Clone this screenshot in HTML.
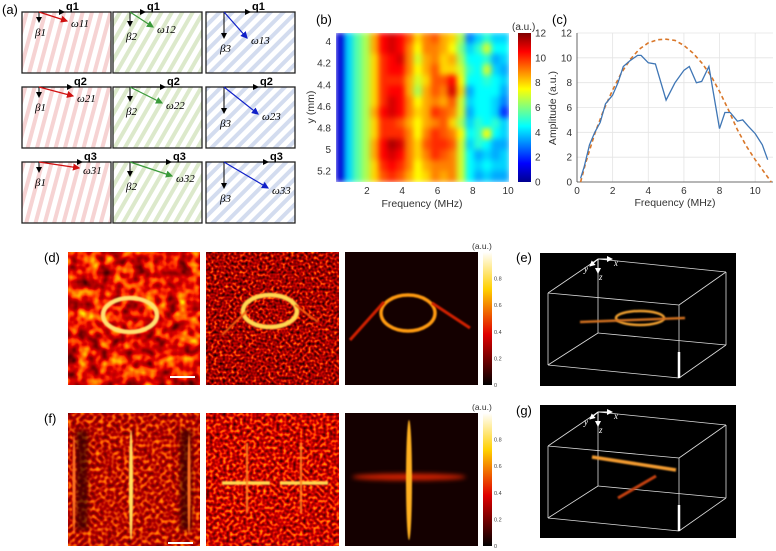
<!DOCTYPE html>
<html><head><meta charset="utf-8"><style>
html,body{margin:0;padding:0;background:#fff;}
svg{display:block;font-family:"Liberation Sans",sans-serif;}
filter{color-interpolation-filters:sRGB;}
</style></head><body>
<svg id="fig" width="776" height="551" viewBox="0 0 776 551" xmlns="http://www.w3.org/2000/svg">
<defs>
 <pattern id="stR" width="9" height="9" patternUnits="userSpaceOnUse" patternTransform="rotate(15)"><rect width="9" height="9" fill="#fff"/><rect width="4" height="9" fill="#f6d3d3"/></pattern>
 <pattern id="stG" width="9" height="9" patternUnits="userSpaceOnUse" patternTransform="rotate(30)"><rect width="9" height="9" fill="#fff"/><rect width="4" height="9" fill="#dce9cb"/></pattern>
 <pattern id="stB" width="9" height="9" patternUnits="userSpaceOnUse" patternTransform="rotate(45)"><rect width="9" height="9" fill="#fff"/><rect width="4" height="9" fill="#d3dcef"/></pattern>
 <marker id="ak" markerWidth="6" markerHeight="6" refX="5" refY="3" orient="auto"><path d="M0,0L6,3L0,6z" fill="#000"/></marker>
 <marker id="ar" markerWidth="6" markerHeight="6" refX="5" refY="3" orient="auto"><path d="M0,0L6,3L0,6z" fill="#d01010"/></marker>
 <marker id="ag" markerWidth="6" markerHeight="6" refX="5" refY="3" orient="auto"><path d="M0,0L6,3L0,6z" fill="#3a9a3a"/></marker>
 <marker id="ab" markerWidth="6" markerHeight="6" refX="5" refY="3" orient="auto"><path d="M0,0L6,3L0,6z" fill="#1020c8"/></marker>
 <marker id="aw" markerWidth="6" markerHeight="6" refX="5" refY="3" orient="auto"><path d="M0,0L6,3L0,6z" fill="#fff"/></marker>
 <linearGradient id="jet" x1="0" y1="1" x2="0" y2="0">
  <stop offset="0" stop-color="#00008f"/><stop offset="0.125" stop-color="#0000ff"/><stop offset="0.375" stop-color="#00ffff"/><stop offset="0.625" stop-color="#ffff00"/><stop offset="0.875" stop-color="#ff0000"/><stop offset="1" stop-color="#800000"/>
 </linearGradient>
 <linearGradient id="hot" x1="0" y1="1" x2="0" y2="0">
  <stop offset="0" stop-color="#000"/><stop offset="0.38" stop-color="#e00000"/><stop offset="0.72" stop-color="#ffd000"/><stop offset="1" stop-color="#fff"/>
 </linearGradient>
 <filter id="n1" x="0" y="0" width="1" height="1" color-interpolation-filters="sRGB"><feTurbulence type="fractalNoise" baseFrequency="0.09" numOctaves="2" seed="3"/><feColorMatrix type="matrix" values="1.8 0 0 0 0  2.4 0 0 0 -1.15  0 0 0 0 0  0 0 0 0 1"/></filter>
 <filter id="n2" x="0" y="0" width="1" height="1" color-interpolation-filters="sRGB"><feTurbulence type="fractalNoise" baseFrequency="0.35" numOctaves="1" seed="7"/><feColorMatrix type="matrix" values="1.8 0 0 0 -0.25  2.2 0 0 0 -1.25  0 0 0 0 0  0 0 0 0 1"/></filter>
 <filter id="n3" x="0" y="0" width="1" height="1" color-interpolation-filters="sRGB"><feTurbulence type="fractalNoise" baseFrequency="0.25" numOctaves="1" seed="11"/><feColorMatrix type="matrix" values="1.2 0 0 0 0.15  1.6 0 0 0 -0.75  0 0 0 0 0  0 0 0 0 1"/></filter>
 <filter id="n4" x="0" y="0" width="1" height="1" color-interpolation-filters="sRGB"><feTurbulence type="fractalNoise" baseFrequency="0.3" numOctaves="1" seed="5"/><feColorMatrix type="matrix" values="1.8 0 0 0 -0.1  2.2 0 0 0 -1.15  0 0 0 0 0  0 0 0 0 1"/></filter>
 <filter id="bl1" filterUnits="userSpaceOnUse" x="0" y="0" width="776" height="551" color-interpolation-filters="sRGB"><feGaussianBlur stdDeviation="0.8"/></filter>
 <filter id="bl2" filterUnits="userSpaceOnUse" x="0" y="0" width="776" height="551" color-interpolation-filters="sRGB"><feGaussianBlur stdDeviation="2.5"/></filter>
 <filter id="hmBlur" x="0" y="0" width="1" height="1" color-interpolation-filters="sRGB"><feGaussianBlur stdDeviation="3"/></filter>
 <clipPath id="hmClip"><rect x="336" y="33" width="173" height="149"/></clipPath>
</defs>

<g id="panelA">
 <text x="2" y="14" font-size="13">(a)</text>
</g>

<g>
 <text x="316" y="24" font-size="13">(b)</text>
 <g clip-path="url(#hmClip)"><g id="hmCells" filter="url(#hmBlur)"></g></g>
 <g id="hmAxes" font-size="10" fill="#333"></g>
 <text x="422" y="207" font-size="10.5" text-anchor="middle" fill="#333">Frequency (MHz)</text>
 <text transform="translate(314,107) rotate(-90)" font-size="10.5" text-anchor="middle" fill="#333">y (mm)</text>
 <rect x="518" y="33" width="13" height="149" fill="url(#jet)"/>
 <text x="512" y="30" font-size="10" fill="#333">(a.u.)</text>
 <g id="cbTicks" font-size="10" fill="#333"></g>
</g>

<g>
 <text x="552" y="24" font-size="13">(c)</text>
 <g id="cGrid"></g>
 <path id="fitLine" fill="none" stroke="#d9772a" stroke-width="1.6" stroke-dasharray="4,3"/>
 <path id="measLine" fill="none" stroke="#3f76b5" stroke-width="1.3"/>
 <text x="675" y="206" font-size="10.5" text-anchor="middle" fill="#333">Frequency (MHz)</text>
 <text transform="translate(556,108) rotate(-90)" font-size="10.5" text-anchor="middle" fill="#333">Amplitude (a.u.)</text>
</g>

<g>
 <text x="44" y="262" font-size="13">(d)</text>
 <rect x="68" y="252" width="132" height="133" fill="#c03000" filter="url(#n1)"/>
 <ellipse cx="130" cy="315" rx="27" ry="17" fill="none" stroke="#ffe070" stroke-width="4.5" filter="url(#bl1)"/>
 <line x1="170" y1="377" x2="195" y2="377" stroke="#fff" stroke-width="2"/>
 <rect x="206" y="252" width="133" height="133" fill="#901000" filter="url(#n2)"/>
 <ellipse cx="270" cy="311" rx="27" ry="16" fill="none" stroke="#ffd850" stroke-width="4.5" filter="url(#bl1)"/>
 <path d="M222,335 L248,310 M295,305 L318,322" stroke="#f06010" stroke-width="2" filter="url(#bl1)"/>
 <rect x="345" y="252" width="133" height="133" fill="#140000"/>
 <ellipse cx="408" cy="313" rx="27" ry="18" fill="none" stroke="#ff9a10" stroke-width="3.5" filter="url(#bl1)"/>
 <path d="M350,340 L384,302 M432,303 L470,328" stroke="#d02000" stroke-width="3" filter="url(#bl1)"/>
 <rect x="483" y="252" width="9" height="133" fill="url(#hot)"/>
 <text x="472" y="249" font-size="8.5" fill="#333">(a.u.)</text>
 <g id="cbD" font-size="5.5" fill="#444"></g>
</g>

<g>
 <text x="44" y="423" font-size="13">(f)</text>
 <rect x="68" y="413" width="132" height="133" fill="#b82000" filter="url(#n3)"/>
 <rect x="76" y="430" width="12" height="100" fill="#300000" opacity="0.7" filter="url(#bl2)"/>
 <rect x="180" y="430" width="12" height="100" fill="#300000" opacity="0.7" filter="url(#bl2)"/>
 <ellipse cx="131" cy="485" rx="2" ry="55" fill="#ffe060" filter="url(#bl1)"/>
 <ellipse cx="74" cy="485" rx="1.5" ry="50" fill="#ff7020" filter="url(#bl1)"/>
 <ellipse cx="189" cy="485" rx="1.5" ry="50" fill="#ff7020" filter="url(#bl1)"/>
 <line x1="168" y1="543" x2="193" y2="543" stroke="#fff" stroke-width="2"/>
 <rect x="206" y="413" width="133" height="133" fill="#b02000" filter="url(#n4)"/>
 <path d="M222,483 L270,483 M280,483 L328,483" stroke="#ffdc50" stroke-width="3.5" filter="url(#bl1)"/>
 <path d="M247,443 L247,513 M301,443 L301,513" stroke="#ff8020" stroke-width="2" filter="url(#bl1)"/>
 <rect x="345" y="413" width="133" height="133" fill="#140000"/>
 <ellipse cx="409" cy="477" rx="57" ry="3.5" fill="#d02000" filter="url(#bl2)"/>
 <ellipse cx="409" cy="480" rx="3" ry="60" fill="#ffb020" filter="url(#bl1)"/>
 <rect x="483" y="413" width="9" height="133" fill="url(#hot)"/>
 <text x="472" y="410" font-size="8.5" fill="#333">(a.u.)</text>
 <g id="cbF" font-size="5.5" fill="#444"></g>
</g>

<g>
 <text x="516" y="262" font-size="13">(e)</text>
 <rect x="540" y="253" width="196" height="133" fill="#000"/>
 <g id="boxE"></g>
 <ellipse cx="640" cy="318" rx="24" ry="7" fill="none" stroke="#f0a030" stroke-width="2.5" filter="url(#bl1)"/>
 <path d="M580,322 L685,318" stroke="#d07020" stroke-width="2.5" filter="url(#bl1)"/>
</g>
<g>
 <text x="516" y="415" font-size="13">(g)</text>
 <rect x="540" y="405" width="196" height="133" fill="#000"/>
 <g id="boxG"></g>
 <path d="M592,457 L676,470" stroke="#f09a30" stroke-width="3.5" filter="url(#bl1)"/>
 <path d="M618,498 L656,476" stroke="#c04010" stroke-width="3" filter="url(#bl1)"/>
</g>
</svg>
<script>
const NS="http://www.w3.org/2000/svg";
const freqMeas=[0.2,0.4,0.7,1.0,1.3,1.6,2.0,2.3,2.6,3.0,3.4,3.6,4.0,4.4,5.0,5.5,6.0,6.3,6.7,7.0,7.4,8.0,8.3,8.6,9.0,9.3,9.6,10.0,10.4,10.7];
const ampMeas=[0.3,1.2,3.0,4.0,4.8,6.3,7.0,8.0,9.3,9.8,10.2,10.2,9.6,9.5,6.6,8.0,9.0,9.3,8.0,8.1,9.3,4.3,5.6,5.6,4.9,5.0,4.5,3.9,3.0,1.8];
const freqFit=[0.2,0.5,1,1.5,2,2.5,3,3.5,4,4.5,5,5.5,6,6.5,7,7.5,8,8.5,9,9.5,10,10.5,10.9];
const ampFit=[0,1.6,3.9,5.8,7.4,8.8,9.9,10.7,11.2,11.45,11.5,11.4,11.0,10.4,9.6,8.6,7.3,5.8,4.2,2.9,1.8,0.8,0];
const cXTicks=[0,2,4,6,8,10];
const cYTicks=[0,2,4,6,8,10,12];
const hmFreqTicks=[2,4,6,8,10];
const hmYTicks=[4,4.2,4.4,4.6,4.8,5,5.2];
const cbTickVals=[0,2,4,6,8,10,12];
const hmGrid=[
[1,4,5.5,6.5,8.5,10.5,11,10.5,9.5,8,9,9.5,8.5,8,6.5,3,4,5,4,4],
[1,4,5.5,6.5,8.5,10.5,11,10.5,9,7.5,9,9,8.5,7.5,6,4,5,7,4.5,4.5],
[1,4,5.5,6.5,8,10,10.5,11,9,7,8.5,9,8,8.5,6.5,4.5,4.5,5,3.5,4],
[1,4,5.5,6.5,8,10,10.5,10.5,9,7.5,8.5,9.5,8,8,7,5,4.5,7,4,3.5],
[1,4,5.5,6.5,8,10,10,10,8.5,7,8,9.5,9.5,10.5,7.5,4.5,4.5,5,4.5,4],
[1,4,5.5,6.5,8,10,10.5,10.5,8.5,6.5,8.5,9.5,9,11,8,3.5,4.5,4.5,4.5,3.5],
[1,4,5.5,6.5,8,10,11,10.5,9,7.5,8.5,9,8.5,9.5,7,4,4.5,4.5,4,3],
[1,4,5.5,6.5,8.5,10.5,11,10.5,9,8,8.5,10,9.5,9,7,3.5,4.5,4.5,4,2],
[1,4,5.5,6.5,8,10,10,9.5,8.5,7.5,8.5,9,9.5,8,6.5,4,5,4.5,5,4],
[1,4,5.5,6.5,8,10,10,10,9,7.5,9,10,9.5,9,7.5,4.5,5,7.5,4.5,4],
[1,4,5.5,6.5,8.5,10.5,11.5,11,9,8,9.5,10,10,9.5,7,4,5,4.5,3.5,3.5],
[1,4,5.5,6.5,8.5,10.5,11,10.5,9,8,9,10,9.5,9,7,4.5,3.5,4,3.5,4],
[1,4,5.5,6.5,8,10,10.5,10,9,7.5,8.5,9,9,9,7,4.5,4,4.5,4,4],
[1,4,5.5,6.5,8,9.5,10,9.5,8.5,7.5,8,9,8.5,9,7,4.5,3.5,4,3.5,3.5]];
const hotTicks=[0,0.2,0.4,0.6,0.8];

function mk(tag,attrs,parent){const e=document.createElementNS(NS,tag);for(const k in attrs)e.setAttribute(k,attrs[k]);parent.appendChild(e);return e;}

const cx0=577,cx1=773,cy0=182,cy1=33,cxMax=11,cyMax=12;
const cX=v=>cx0+(v/cxMax)*(cx1-cx0);
const cY=v=>cy0-(v/cyMax)*(cy0-cy1);
const cg=document.getElementById('cGrid');
cXTicks.forEach(t=>{mk('line',{x1:cX(t),x2:cX(t),y1:cy1,y2:cy0,stroke:'#e4e4e4','stroke-width':0.8},cg);
 const tx=mk('text',{x:cX(t),y:cy0+12,'font-size':10,'text-anchor':'middle',fill:'#333'},cg);tx.textContent=t;
 
 });
cYTicks.forEach(t=>{mk('line',{x1:cx0,x2:cx1,y1:cY(t),y2:cY(t),stroke:'#e4e4e4','stroke-width':0.8},cg);
 const ty=mk('text',{x:cx0-5,y:cY(t)+3.5,'font-size':10,'text-anchor':'end',fill:'#333'},cg);ty.textContent=t;
 
 });
mk('line',{x1:cx0,x2:cx1,y1:cy0,y2:cy0,stroke:'#444','stroke-width':0.8},cg);
mk('line',{x1:cx0,x2:cx0,y1:cy1,y2:cy0,stroke:'#444','stroke-width':0.8},cg);
document.getElementById('measLine').setAttribute('d',freqMeas.map((f,i)=>(i?'L':'M')+cX(f).toFixed(1)+','+cY(ampMeas[i]).toFixed(1)).join(''));
document.getElementById('fitLine').setAttribute('d',freqFit.map((f,i)=>(i?'L':'M')+cX(f).toFixed(1)+','+cY(ampFit[i]).toFixed(1)).join(''));

function jet(v){const t=Math.max(0,Math.min(1,v/12));
 const r=Math.max(0,Math.min(1,1.5-Math.abs(4*t-3))),g=Math.max(0,Math.min(1,1.5-Math.abs(4*t-2))),b=Math.max(0,Math.min(1,1.5-Math.abs(4*t-1)));
 return `rgb(${Math.round(r*255)},${Math.round(g*255)},${Math.round(b*255)})`;}
const hx0=336,hx1=509,hy0=33,hy1=182,fMin=0.25,fMax=10.05,yMin=3.92,yMax=5.3;
const hX=f=>hx0+(f-fMin)/(fMax-fMin)*(hx1-hx0);
const hY=y=>hy0+(y-yMin)/(yMax-yMin)*(hy1-hy0);
const cells=document.getElementById('hmCells');
const nc=hmGrid[0].length,nr=hmGrid.length;
const cw=(fMax-fMin)/nc,rh=(yMax-yMin)/nr;
hmGrid.forEach((row,r)=>row.forEach((v,c)=>{
 const x=hX(fMin+c*cw),y=hY(yMin+r*rh);
 const rc=mk('rect',{x:x-0.5,y:y-0.5,width:hX(fMin+(c+1)*cw)-x+1,height:hY(yMin+(r+1)*rh)-y+1,fill:jet(v)},cells);
 
 
}));
const ha=document.getElementById('hmAxes');
hmFreqTicks.forEach(t=>{const e=mk('text',{x:hX(t),y:hy1+12,'text-anchor':'middle'},ha);e.textContent=t;
 
 });
hmYTicks.forEach(t=>{const e=mk('text',{x:hx0-5,y:hY(t)+3.5,'text-anchor':'end'},ha);e.textContent=t;
 
 });
const cbt=document.getElementById('cbTicks');
cbTickVals.forEach(t=>{const e=mk('text',{x:535,y:182-t/12*149+3.5},cbt);e.textContent=t;
 
 });

[['cbD',252],['cbF',413]].forEach(([id,top])=>{const g=document.getElementById(id);
 hotTicks.forEach(t=>{const e=mk('text',{x:494,y:top+133-t*133+2},g);e.textContent=t===0?'0':t;
 
 });});

const pa=document.getElementById('panelA');
const cols=[[22,'stR','#d01010','ar'],[113,'stG','#3a9a3a','ag'],[206,'stB','#1020c8','ab']];
const rows=[[12,1],[87,2],[162,3]];
const omegaEnd=[[[28,9],[23,15],[23,26]],[[34,9],[32,16],[34,27]],[[40,6],[42,14],[44,26]]];
const qEnd=[[42,32,44],[50,52,52],[60,58,62]];
rows.forEach(([y,ri],r)=>cols.forEach(([x,pat,col,mark],c)=>{
 const bx=mk('rect',{x:x,y:y,width:89,height:61,fill:'url(#'+pat+')',stroke:'#222','stroke-width':1.3},pa);
 
 
 const ox=x+(c===2?18:17);
 mk('line',{x1:ox,y1:y,x2:x+qEnd[r][c],y2:y,stroke:'#000','stroke-width':1,'marker-end':'url(#ak)'},pa);
 mk('line',{x1:ox,y1:y,x2:ox,y2:y+(c===0?10:c===1?14:26),stroke:'#000','stroke-width':1,'marker-end':'url(#ak)'},pa);
 const oe=omegaEnd[r][c];
 mk('line',{x1:ox,y1:y,x2:ox+oe[0],y2:y+oe[1],stroke:col,'stroke-width':1.2,'marker-end':'url(#'+mark+')'},pa);
 const q=mk('text',{x:x+qEnd[r][c]+2,y:y-2,'font-size':11,'font-weight':'bold'},pa);q.textContent='q'+ri;
 const b=mk('text',{x:ox-4,y:y+(c===2?40:c===1?28:24),'font-size':11,'font-family':'Liberation Serif,serif','font-style':'italic'},pa);b.textContent='β'+(c+1);
 const w=mk('text',{x:ox+oe[0]+4,y:y+oe[1]+6,'font-size':11,'font-family':'Liberation Serif,serif','font-style':'italic'},pa);w.textContent='ω'+ri+(c+1);
}));

function box(id,dy){const g=document.getElementById(id);
 const P={A:[548,293],B:[679,305],C:[679,378],D:[548,365],E:[598,259],F:[726,272],G:[726,345],H:[598,333]};
 const edges=[['A','B'],['B','C'],['C','D'],['D','A'],['E','F'],['F','G'],['G','H'],['H','E'],['A','E'],['B','F'],['C','G'],['D','H']];
 edges.forEach(([a,b])=>mk('line',{x1:P[a][0],y1:P[a][1]+dy,x2:P[b][0],y2:P[b][1]+dy,stroke:'#ddd','stroke-width':0.8},g));
 mk('line',{x1:679,y1:352+dy,x2:679,y2:378+dy,stroke:'#fff','stroke-width':2.5},g);
 mk('line',{x1:598,y1:259+dy,x2:612,y2:259+dy,stroke:'#fff','stroke-width':1,'marker-end':'url(#aw)'},g);
 mk('line',{x1:598,y1:259+dy,x2:598,y2:273+dy,stroke:'#fff','stroke-width':1,'marker-end':'url(#aw)'},g);
 mk('line',{x1:598,y1:259+dy,x2:590,y2:266+dy,stroke:'#fff','stroke-width':1,'marker-end':'url(#aw)'},g);
 [['x',614,266],['y',584,272],['z',599,280]].forEach(([t,x,y])=>{const e=mk('text',{x:x,y:y+dy,'font-size':9,fill:'#fff','font-style':'italic','font-family':'Liberation Serif,serif'},g);e.textContent=t;});
}
box('boxE',0);box('boxG',153);
</script>
</body></html>
